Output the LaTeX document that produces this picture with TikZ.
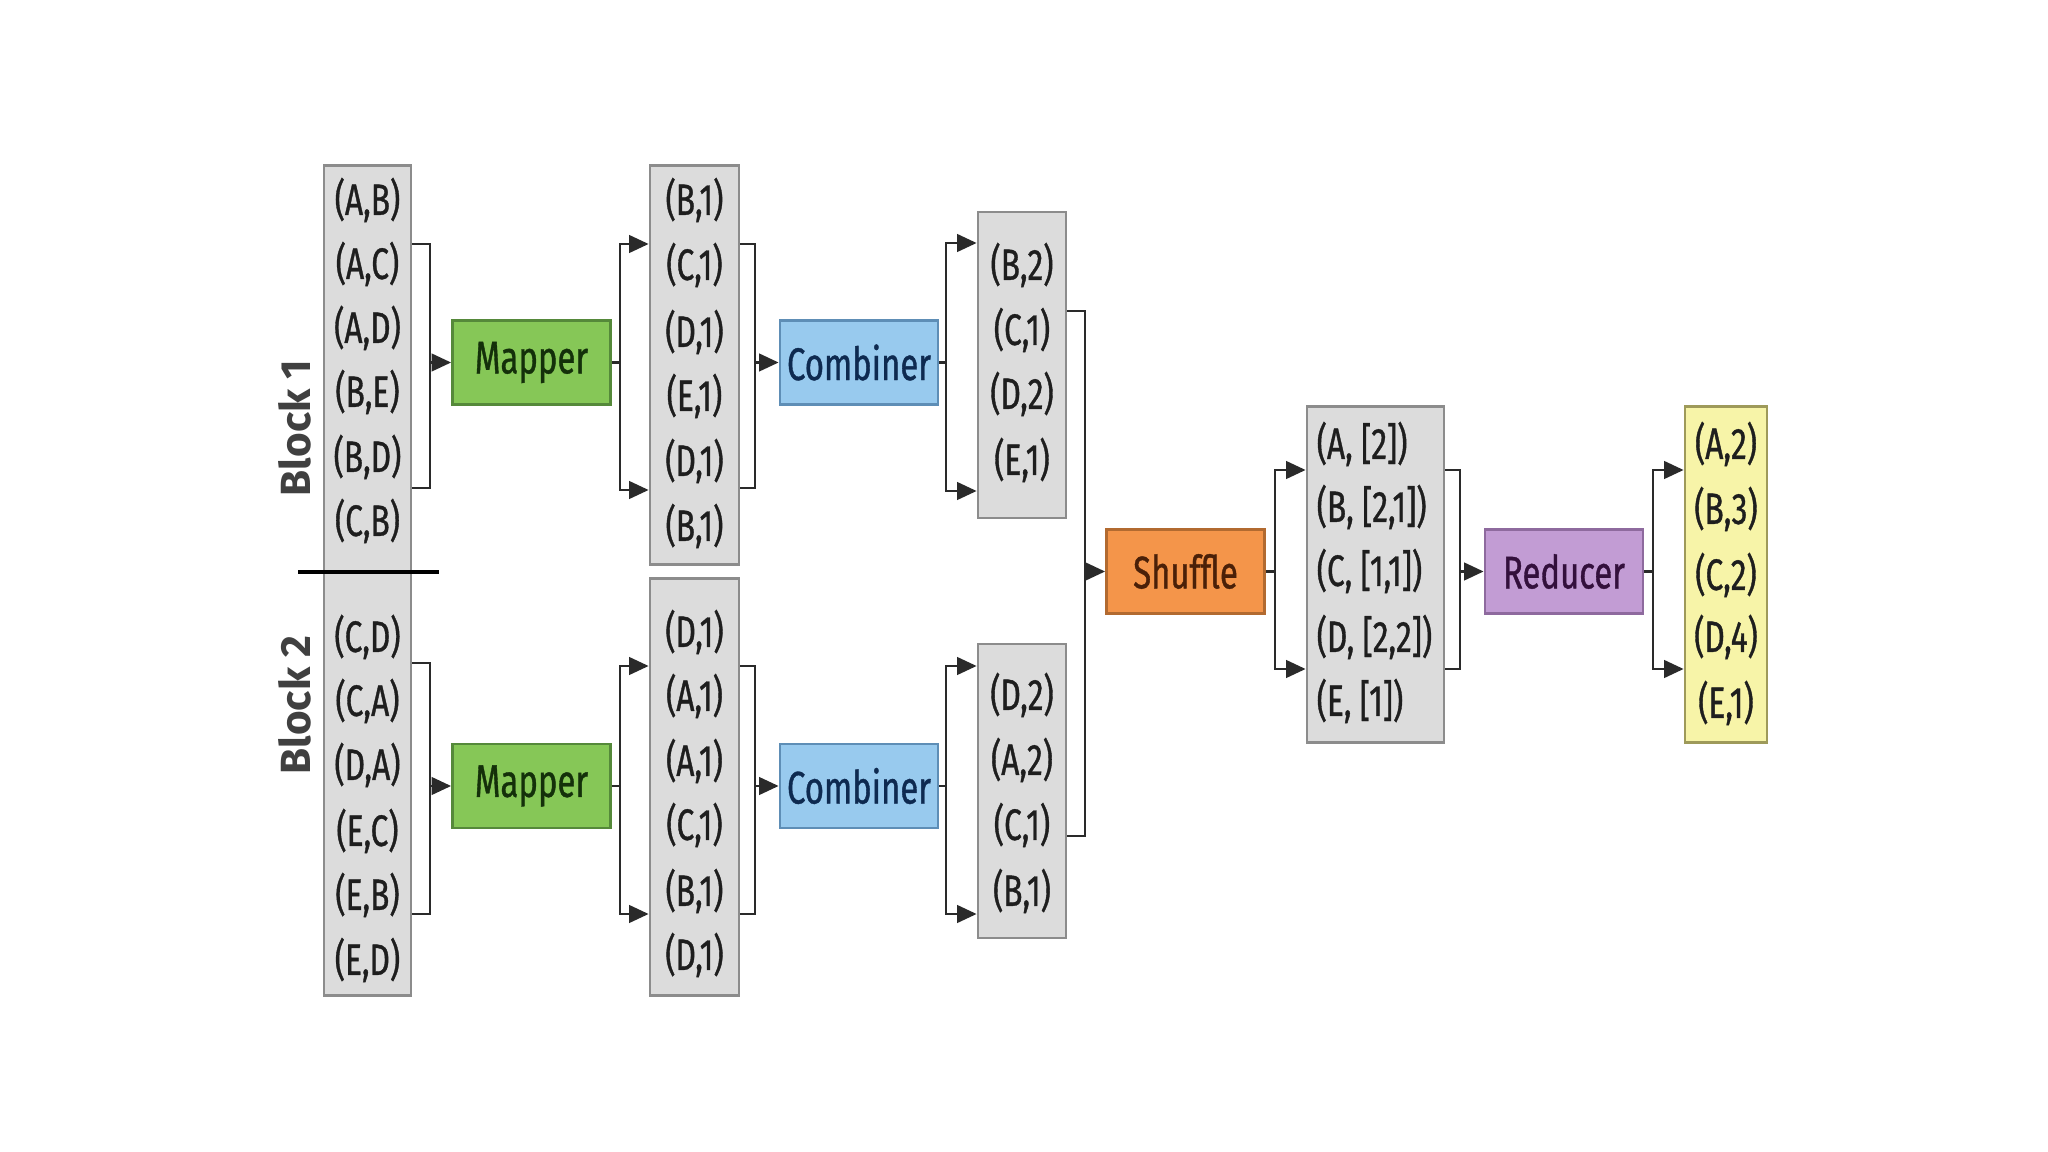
\documentclass[tikz,border=0pt]{standalone}
\usepackage{fontspec}
\setmainfont{Fira Sans}
\newfontfamily\cond[FakeStretch=0.72,FakeBold=0.8]{Fira Sans}
\usetikzlibrary{arrows.meta}
\definecolor{gfill}{HTML}{DCDCDC}
\definecolor{gline}{HTML}{8C8C8C}
\definecolor{mfill}{HTML}{86C757}
\definecolor{mline}{HTML}{55893A}
\definecolor{mtext}{HTML}{14300A}
\definecolor{cfill}{HTML}{98CAEE}
\definecolor{cline}{HTML}{5E8EB6}
\definecolor{ctext}{HTML}{0E2A50}
\definecolor{sfill}{HTML}{F4954A}
\definecolor{sline}{HTML}{B26A30}
\definecolor{stext}{HTML}{4A2008}
\definecolor{rfill}{HTML}{C29CD4}
\definecolor{rline}{HTML}{8E6A9E}
\definecolor{rtext}{HTML}{33103C}
\definecolor{yfill}{HTML}{F7F4A8}
\definecolor{yline}{HTML}{9E9A5A}
\definecolor{ink}{HTML}{1E1E1E}
\definecolor{conncol}{HTML}{2A2A2A}
\begin{document}
\begin{tikzpicture}[x=0.01cm,y=-0.01cm,
  gbox/.style={draw=gline,fill=gfill,line width=0.8pt,inner sep=0pt},
  ybox/.style={draw=yline,fill=yfill,line width=0.8pt,inner sep=0pt},
  proc/.style={line width=0.8pt,inner sep=0pt,minimum height=0.84cm,minimum width=1.58cm,
     font=\cond\fontsize{13}{15}\selectfont},
  mapbox/.style={proc,draw=mline,fill=mfill,text=mtext},
  combox/.style={proc,draw=cline,fill=cfill,text=ctext},
  shufbox/.style={proc,draw=sline,fill=sfill,text=stext},
  redbox/.style={proc,draw=rline,fill=rfill,text=rtext},
  row/.style={inner sep=0pt,text=ink,font=\cond\fontsize{12.5}{14}\selectfont},
  lrow/.style={row,anchor=west},
  blocklbl/.style={rotate=90,text=ink!85,font=\bfseries\fontsize{12}{14}\selectfont},
  conn/.style={draw=conncol,line width=0.6pt},
  arr/.style={conn,-{Triangle[length=5.5pt,width=5pt]}},
  sep/.style={draw=black,line width=0.9pt}
]
\useasboundingbox[fill=white] (0,0) rectangle (2048,1152);

% ---------- input ----------
\node[gbox,minimum width=0.87cm,minimum height=8.29cm] (inbox) at (367.5,580.5) {};
\node[row] (i1) at (367.5,200) {(A,B)};
\node[row] (i2) at (367.5,264) {(A,C)};
\node[row] (i3) at (367.5,328) {(A,D)};
\node[row] (i4) at (367.5,392) {(B,E)};
\node[row] (i5) at (367.5,457) {(B,D)};
\node[row] (i6) at (367.5,521) {(C,B)};
\node[row] (i7) at (367.5,637) {(C,D)};
\node[row] (i8) at (367.5,701) {(C,A)};
\node[row] (i9) at (367.5,765) {(D,A)};
\node[row] (i10) at (367.5,831) {(E,C)};
\node[row] (i11) at (367.5,895) {(E,B)};
\node[row] (i12) at (367.5,960) {(E,D)};
\coordinate (sepL) at (298,572);
\coordinate (sepR) at (439,572);
\draw[sep] (sepL) -- (sepR);
\node[blocklbl] (blk1) at (295,428) {Block 1};
\node[blocklbl] (blk2) at (295,705) {Block 2};

% ---------- mappers ----------
\node[mapbox] (map1) at (531.5,362.5) {Mapper};
\node[mapbox] (map2) at (531.5,786) {Mapper};

% ---------- mapper outputs ----------
\node[gbox,minimum width=0.89cm,minimum height=3.98cm] (mo1) at (694.5,365) {};
\node[row] at (694.5,200) {(B,1)};
\node[row] at (694.5,265) {(C,1)};
\node[row] at (694.5,332) {(D,1)};
\node[row] at (694.5,396) {(E,1)};
\node[row] at (694.5,461) {(D,1)};
\node[row] at (694.5,526) {(B,1)};
\node[gbox,minimum width=0.89cm,minimum height=4.16cm] (mo2) at (694.5,787) {};
\node[row] at (694.5,632) {(D,1)};
\node[row] at (694.5,696) {(A,1)};
\node[row] at (694.5,761) {(A,1)};
\node[row] at (694.5,825) {(C,1)};
\node[row] at (694.5,891) {(B,1)};
\node[row] at (694.5,955) {(D,1)};

% ---------- combiners ----------
\node[combox] (com1) at (859,362.5) {Combiner};
\node[combox] (com2) at (859,786) {Combiner};

% ---------- combiner outputs ----------
\node[gbox,minimum width=0.88cm,minimum height=3.06cm] (co1) at (1022,365) {};
\node[row] at (1022,265) {(B,2)};
\node[row] at (1022,330) {(C,1)};
\node[row] at (1022,394) {(D,2)};
\node[row] at (1022,460) {(E,1)};
\node[gbox,minimum width=0.88cm,minimum height=2.94cm] (co2) at (1022,791) {};
\node[row] at (1022,695) {(D,2)};
\node[row] at (1022,760) {(A,2)};
\node[row] at (1022,825) {(C,1)};
\node[row] at (1022,891) {(B,1)};

% ---------- shuffle ----------
\node[shufbox] (shuf) at (1185.5,571.5) {Shuffle};
\node[gbox,minimum width=1.37cm,minimum height=3.35cm] (sh) at (1375.5,574.5) {};
\node[lrow] at (1316,444) {(A, [2])};
\node[lrow] at (1316,507) {(B, [2,1])};
\node[lrow] at (1316,571) {(C, [1,1])};
\node[lrow] at (1316,637) {(D, [2,2])};
\node[lrow] at (1316,701) {(E, [1])};

% ---------- reducer ----------
\node[redbox] (red) at (1564,571.5) {Reducer};
\node[ybox,minimum width=0.82cm,minimum height=3.35cm] (res) at (1726,574.5) {};
\node[row] at (1726,444) {(A,2)};
\node[row] at (1726,509) {(B,3)};
\node[row] at (1726,575) {(C,2)};
\node[row] at (1726,637) {(D,4)};
\node[row] at (1726,703) {(E,1)};

% ---------- bracket coordinates ----------
\coordinate (a1t) at (430,244);  \coordinate (a1b) at (430,488);
\coordinate (a2t) at (430,663);  \coordinate (a2b) at (430,914);
\coordinate (b1t) at (620,244);  \coordinate (b1b) at (620,490);
\coordinate (b2t) at (620,666);  \coordinate (b2b) at (620,914);
\coordinate (c1t) at (755,244);  \coordinate (c1b) at (755,488);
\coordinate (c2t) at (755,666);  \coordinate (c2b) at (755,914);
\coordinate (d1t) at (946,243);  \coordinate (d1b) at (946,491);
\coordinate (d2t) at (946,666);  \coordinate (d2b) at (946,914);
\coordinate (e1t) at (1085,311); \coordinate (e1b) at (1085,836);
\coordinate (f1t) at (1275,470); \coordinate (f1b) at (1275,669);
\coordinate (g1t) at (1460,470); \coordinate (g1b) at (1460,669);
\coordinate (h1t) at (1653,470); \coordinate (h1b) at (1653,669);

% input -> mapper
\draw[conn] (inbox.east|-a1t) -- (a1t) -- (a1b) -- (inbox.east|-a1b);
\draw[arr] (a1t|-map1) -- (map1.west);
\draw[conn] (inbox.east|-a2t) -- (a2t) -- (a2b) -- (inbox.east|-a2b);
\draw[arr] (a2t|-map2) -- (map2.west);

% mapper -> mapper outputs
\draw[conn] (map1.east) -- (b1t|-map1);
\draw[arr] (b1b) -- (b1t) -- (mo1.west|-b1t);
\draw[arr] (b1t) -- (b1b) -- (mo1.west|-b1b);
\draw[conn] (map2.east) -- (b2t|-map2);
\draw[arr] (b2b) -- (b2t) -- (mo2.west|-b2t);
\draw[arr] (b2t) -- (b2b) -- (mo2.west|-b2b);

% mapper outputs -> combiners
\draw[conn] (mo1.east|-c1t) -- (c1t) -- (c1b) -- (mo1.east|-c1b);
\draw[arr] (c1t|-com1) -- (com1.west);
\draw[conn] (mo2.east|-c2t) -- (c2t) -- (c2b) -- (mo2.east|-c2b);
\draw[arr] (c2t|-com2) -- (com2.west);

% combiners -> combiner outputs
\draw[conn] (com1.east) -- (d1t|-com1);
\draw[arr] (d1b) -- (d1t) -- (co1.west|-d1t);
\draw[arr] (d1t) -- (d1b) -- (co1.west|-d1b);
\draw[conn] (com2.east) -- (d2t|-com2);
\draw[arr] (d2b) -- (d2t) -- (co2.west|-d2t);
\draw[arr] (d2t) -- (d2b) -- (co2.west|-d2b);

% combiner outputs -> shuffle
\draw[conn] (co1.east|-e1t) -- (e1t) -- (e1b) -- (co2.east|-e1b);
\draw[arr] (e1t|-shuf) -- (shuf.west);

% shuffle -> grouped
\draw[conn] (shuf.east) -- (f1t|-shuf);
\draw[arr] (f1b) -- (f1t) -- (sh.west|-f1t);
\draw[arr] (f1t) -- (f1b) -- (sh.west|-f1b);

% grouped -> reducer
\draw[conn] (sh.east|-g1t) -- (g1t) -- (g1b) -- (sh.east|-g1b);
\draw[arr] (g1t|-red) -- (red.west);

% reducer -> result
\draw[conn] (red.east) -- (h1t|-red);
\draw[arr] (h1b) -- (h1t) -- (res.west|-h1t);
\draw[arr] (h1t) -- (h1b) -- (res.west|-h1b);
\end{tikzpicture}
\end{document}
